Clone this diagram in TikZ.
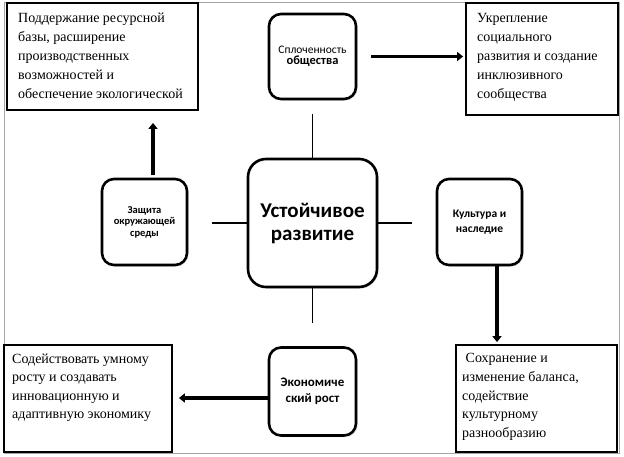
\documentclass[tikz,border=0pt]{standalone}
\usepackage{fontspec}
\setmainfont{Liberation Serif}
\newfontfamily\calfont{Carlito}
\usetikzlibrary{shadows,arrows.meta}
\tikzset{
  rbox/.style={draw, line width=2.6pt, rounded corners=12pt, fill=white,
    inner sep=0pt, align=center, font=\calfont,
    drop shadow={opacity=0.25, shadow xshift=1.5pt, shadow yshift=-1.5pt}},
  rectbox/.style={draw, line width=1.8pt, inner sep=0pt, fill=white},
  txt/.style={inner sep=0pt, align=left, anchor=north west},
  thinline/.style={line width=1.8pt},
  bigarrow/.style={line width=3.6pt, -{Triangle[length=6pt,width=9pt]}},
}
\begin{document}
\begin{tikzpicture}[x=1pt,y=-1pt]
\useasboundingbox (0,0) rectangle (624,456);
\fill[white] (0,0) rectangle (624,456);
\draw[gray!70, line width=1pt] (4,2) rectangle (619,453);

% rectangular boxes
\node[rectbox, minimum width=191pt, minimum height=107pt] (tl) at (102.5,56.5) {};
\node[rectbox, minimum width=152pt, minimum height=112pt] (tr) at (542,59) {};
\node[rectbox, minimum width=168pt, minimum height=107pt] (bl) at (88,398.5) {};
\node[rectbox, minimum width=161pt, minimum height=107pt] (br) at (536.5,398.5) {};

\node[txt, font=\fontsize{14}{19}\selectfont] (tltext) at (18,12.5)
  {Поддержание ресурсной\\базы, расширение\\производственных\\возможностей и\\обеспечение экологической};
\node[txt, font=\fontsize{14}{19}\selectfont] (trtext) at (477,13.5)
  {Укрепление\\социального\\развития и создание\\инклюзивного\\сообщества};
\node[txt, font=\fontsize{14}{18.5}\selectfont] (bltext) at (12,353.5)
  {Содействовать умному\\росту и создавать\\инновационную и\\адаптивную экономику};
\node[txt, font=\fontsize{14}{18.8}\selectfont] (brtext) at (462,353)
  {\ Сохранение и\\изменение баланса,\\содействие\\культурному\\разнообразию};

% rounded boxes
\node[rbox, minimum width=87pt, minimum height=85pt] (coh) at (312.5,56.5)
  {{\fontsize{11.5}{14}\selectfont Сплоченность}\\[-1pt]{\fontsize{12.5}{15}\selectfont\bfseries общества}};
\node[rbox, rounded corners=18pt, minimum width=129pt, minimum height=128pt,
  font=\calfont\fontsize{21}{23}\selectfont\bfseries] (sd) at (312.5,223)
  {Устойчивое\\развитие};
\node[rbox, minimum width=85pt, minimum height=86pt, font=\calfont\fontsize{10.5}{11.5}\selectfont\bfseries] (env) at (144.5,222)
  {Защита\\окружающей\\среды};
\node[rbox, minimum width=85pt, minimum height=86pt, font=\calfont\fontsize{11.5}{14.5}\selectfont\bfseries] (cult) at (479.5,222)
  {Культура и\\наследие};
\node[rbox, minimum width=87pt, minimum height=88pt, font=\calfont\fontsize{13}{16}\selectfont\bfseries] (eco) at (312.5,391.5)
  {Экономиче\\ский рост};

% thin connectors to centre
\draw[thinline] ([yshift=-14pt]coh.south) -- (sd.north);
\draw[thinline] ([xshift=-35pt]sd.west) -- (sd.west);
\draw[thinline] (sd.east) -- ([xshift=34pt]sd.east);
\draw[thinline] (sd.south) -- ([yshift=-35pt]sd.south);

% thick arrows
\draw[bigarrow] ([xshift=8.5pt,yshift=3pt]env.north) -- ([xshift=8.5pt,yshift=-12pt]env.north |- tl.south);
\draw[bigarrow] ([xshift=14pt]coh.east) -- ([xshift=-2pt]tr.west |- coh.east);
\draw[bigarrow] ([xshift=17.5pt]cult.south) -- ([xshift=17.5pt,yshift=2pt]cult.south |- br.north);
\draw[bigarrow] ([yshift=-6.5pt]eco.west) -- ([xshift=6pt,yshift=-6.5pt]bl.east |- eco.west);
\end{tikzpicture}
\end{document}
